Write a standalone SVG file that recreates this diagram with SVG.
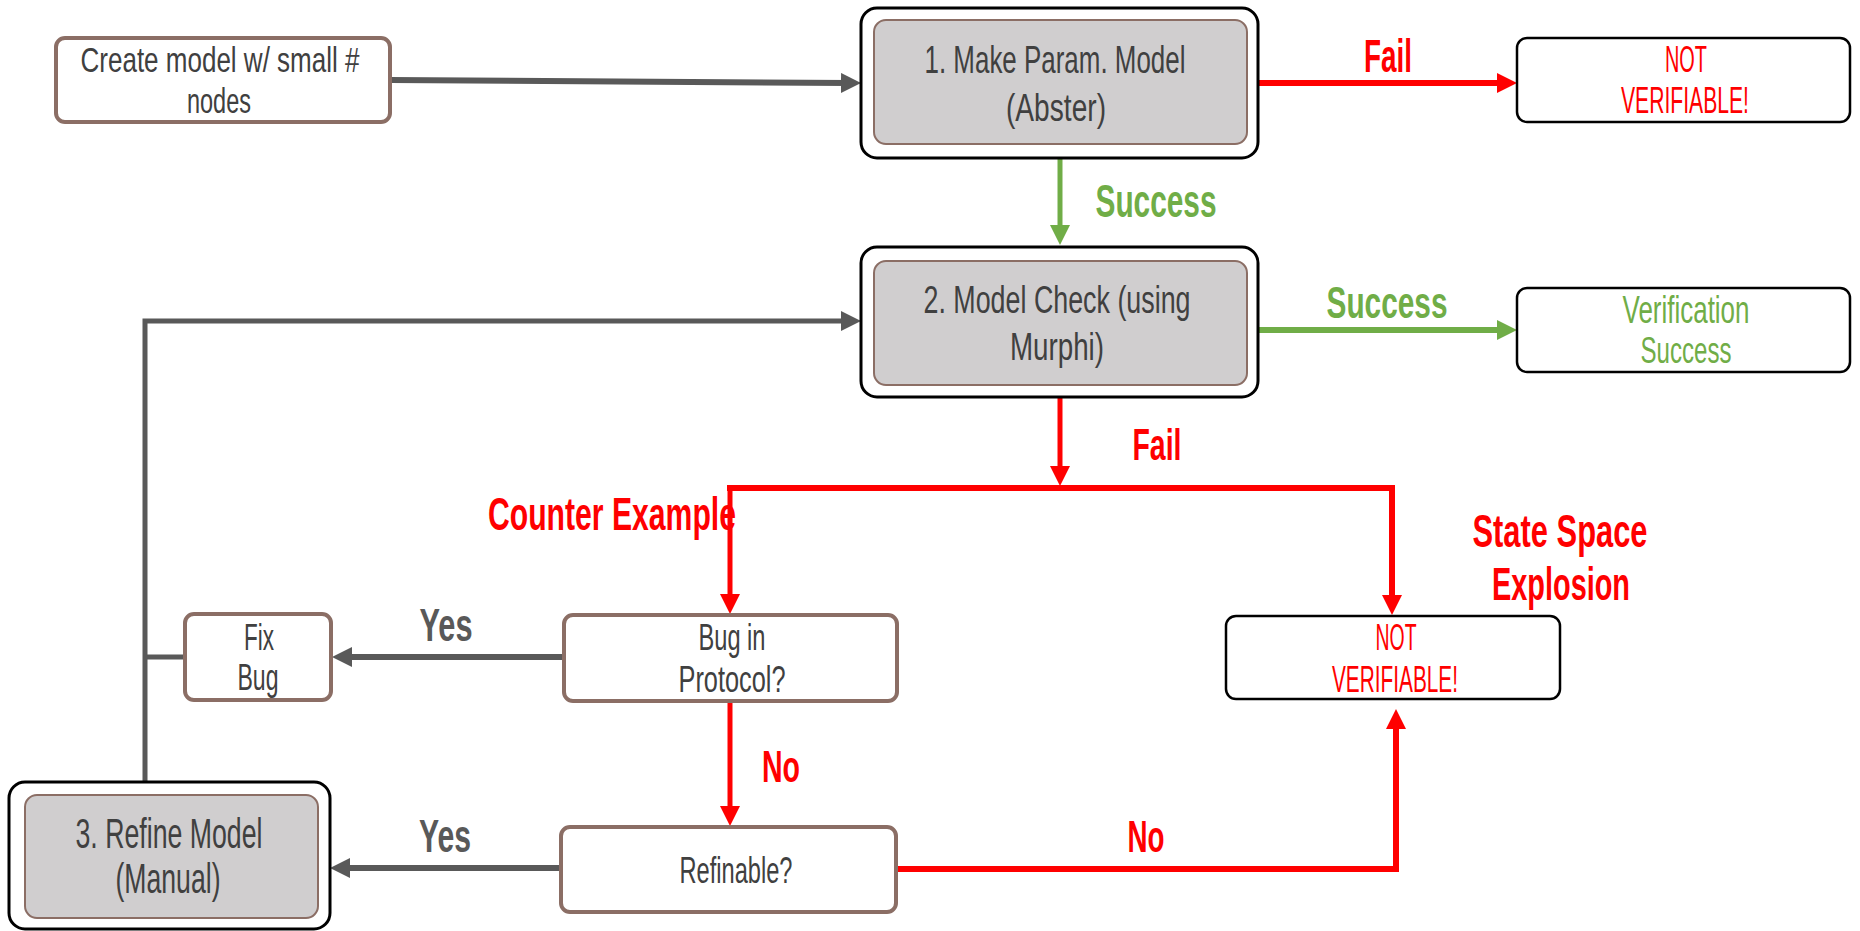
<svg xmlns="http://www.w3.org/2000/svg" width="1860" height="931" viewBox="0 0 1860 931">
  <style>
    text { font-family: "Liberation Sans Narrow", "Liberation Sans", Arial, sans-serif; text-anchor: middle; }
    .box { fill: #ffffff; stroke: #8B6E65; stroke-width: 4; }
    .outer { fill: #ffffff; stroke: #000000; stroke-width: 3; }
    .inner { fill: #D0CECF; stroke: #8B6E65; stroke-width: 2; }
    .plain { fill: #ffffff; stroke: #000000; stroke-width: 2.5; }
    .t { fill: #404040; }
    .tred { fill: #FF0000; }
    .tgreen { fill: #70AD47; }
    .lbl { font-weight: bold; }
    .lred { fill: #FF0000; }
    .lgreen { fill: #70AD47; }
    .lgray { fill: #595959; }
    .cg { fill: none; stroke: #595959; stroke-width: 6; }
    .cr { fill: none; stroke: #FF0000; stroke-width: 6; }
    .cgr { fill: none; stroke: #70AD47; stroke-width: 5; }
  </style>
  <defs>
    <marker id="ah-gray" markerUnits="userSpaceOnUse" markerWidth="20" markerHeight="20" refX="8" refY="10" orient="auto">
      <path d="M0,0 L20,10 L0,20 Z" fill="#595959"/>
    </marker>
    <marker id="ah-red" markerUnits="userSpaceOnUse" markerWidth="20" markerHeight="20" refX="8" refY="10" orient="auto">
      <path d="M0,0 L20,10 L0,20 Z" fill="#FF0000"/>
    </marker>
    <marker id="ah-green" markerUnits="userSpaceOnUse" markerWidth="20" markerHeight="20" refX="8" refY="10" orient="auto">
      <path d="M0,0 L20,10 L0,20 Z" fill="#70AD47"/>
    </marker>
  </defs>

  <g id="connectors">
    <!-- start -> step 1 -->
    <path class="cg" d="M390,80 L849,83" marker-end="url(#ah-gray)"/>
    <!-- step 1 fail -->
    <path class="cr" d="M1258,83 H1505" marker-end="url(#ah-red)"/>
    <!-- step 1 success -->
    <path class="cgr" d="M1060,158 V233" marker-end="url(#ah-green)"/>
    <!-- step 2 success -->
    <path class="cgr" style="stroke-width:6" d="M1258,330 H1505" marker-end="url(#ah-green)"/>
    <!-- step 2 fail -->
    <path class="cr" style="stroke-width:5" d="M1060,397 V474" marker-end="url(#ah-red)"/>
    <!-- fail branch -->
    <path class="cr" d="M727,488 H1392 V603" marker-end="url(#ah-red)"/>
    <path class="cr" style="stroke-width:5" d="M730,488 V602" marker-end="url(#ah-red)"/>
    <!-- bug in protocol: yes -->
    <path class="cg" d="M563,657 H344" marker-end="url(#ah-gray)"/>
    <!-- fix bug loop back to step 2 -->
    <path class="cg" style="stroke-width:5" d="M185,657 H145"/>
    <path class="cg" style="stroke-width:5" d="M145,782 V321 H849" marker-end="url(#ah-gray)"/>
    <!-- bug in protocol: no -->
    <path class="cr" style="stroke-width:5" d="M730,701 V814" marker-end="url(#ah-red)"/>
    <!-- refinable: yes -->
    <path class="cg" d="M560,868 H342" marker-end="url(#ah-gray)"/>
    <!-- refinable: no -->
    <path class="cr" d="M896,869 H1396 V721" marker-end="url(#ah-red)"/>
  </g>

  <g id="edge-labels">
    <text class="lbl lred" x="1388" y="72" font-size="47" textLength="48" lengthAdjust="spacingAndGlyphs">Fail</text>
    <text class="lbl lgreen" x="1156" y="217" font-size="47" textLength="121" lengthAdjust="spacingAndGlyphs">Success</text>
    <text class="lbl lgreen" x="1387" y="318" font-size="45" textLength="121" lengthAdjust="spacingAndGlyphs">Success</text>
    <text class="lbl lred" x="1157" y="460" font-size="45" textLength="49" lengthAdjust="spacingAndGlyphs">Fail</text>
    <text class="lbl lred" x="612" y="530" font-size="46" textLength="248" lengthAdjust="spacingAndGlyphs">Counter Example</text>
    <text class="lbl lred" x="1560" y="547" font-size="46" textLength="175" lengthAdjust="spacingAndGlyphs">State Space</text>
    <text class="lbl lred" x="1561" y="600" font-size="46" textLength="138" lengthAdjust="spacingAndGlyphs">Explosion</text>
    <text class="lbl lgray" x="446" y="641" font-size="47" textLength="53" lengthAdjust="spacingAndGlyphs">Yes</text>
    <text class="lbl lred" x="781" y="782" font-size="45" textLength="38" lengthAdjust="spacingAndGlyphs">No</text>
    <text class="lbl lgray" x="445" y="852" font-size="47" textLength="52" lengthAdjust="spacingAndGlyphs">Yes</text>
    <text class="lbl lred" x="1146" y="852" font-size="45" textLength="37" lengthAdjust="spacingAndGlyphs">No</text>
  </g>

  <g id="create-model">
    <rect class="box" x="56" y="38" width="334" height="84" rx="9"/>
    <text class="t" x="220" y="72" font-size="35" textLength="279" lengthAdjust="spacingAndGlyphs">Create model w/ small #</text>
    <text class="t" x="219" y="113" font-size="35" textLength="64" lengthAdjust="spacingAndGlyphs">nodes</text>
  </g>

  <g id="make-param-model">
    <rect class="outer" x="861" y="8" width="397" height="150" rx="16"/>
    <rect class="inner" x="874" y="20" width="373" height="124" rx="12"/>
    <text class="t" x="1055" y="73" font-size="39" textLength="261" lengthAdjust="spacingAndGlyphs">1. Make Param. Model</text>
    <text class="t" x="1056" y="121" font-size="39" textLength="100" lengthAdjust="spacingAndGlyphs">(Abster)</text>
  </g>

  <g id="not-verifiable-1">
    <rect class="plain" x="1517" y="38" width="333" height="84" rx="10"/>
    <text class="tred" x="1686" y="72" font-size="37" textLength="42" lengthAdjust="spacingAndGlyphs">NOT</text>
    <text class="tred" x="1685" y="113" font-size="37" textLength="128" lengthAdjust="spacingAndGlyphs">VERIFIABLE!</text>
  </g>

  <g id="model-check">
    <rect class="outer" x="861" y="247" width="397" height="150" rx="16"/>
    <rect class="inner" x="874" y="261" width="373" height="124" rx="12"/>
    <text class="t" x="1057" y="313" font-size="39" textLength="267" lengthAdjust="spacingAndGlyphs">2. Model Check (using</text>
    <text class="t" x="1057" y="360" font-size="39" textLength="94" lengthAdjust="spacingAndGlyphs">Murphi)</text>
  </g>

  <g id="verification-success">
    <rect class="plain" x="1517" y="288" width="333" height="84" rx="10"/>
    <text class="tgreen" x="1686" y="323" font-size="38" textLength="127" lengthAdjust="spacingAndGlyphs">Verification</text>
    <text class="tgreen" x="1686" y="363" font-size="37" textLength="91" lengthAdjust="spacingAndGlyphs">Success</text>
  </g>

  <g id="not-verifiable-2">
    <rect class="plain" x="1226" y="616" width="334" height="83" rx="10"/>
    <text class="tred" x="1396" y="650" font-size="37" textLength="41" lengthAdjust="spacingAndGlyphs">NOT</text>
    <text class="tred" x="1395" y="692" font-size="37" textLength="126" lengthAdjust="spacingAndGlyphs">VERIFIABLE!</text>
  </g>

  <g id="bug-in-protocol">
    <rect class="box" x="564" y="615" width="333" height="86" rx="9"/>
    <text class="t" x="732" y="650" font-size="37" textLength="67" lengthAdjust="spacingAndGlyphs">Bug in</text>
    <text class="t" x="732" y="692" font-size="37" textLength="107" lengthAdjust="spacingAndGlyphs">Protocol?</text>
  </g>

  <g id="fix-bug">
    <rect class="box" x="185" y="614" width="146" height="86" rx="9"/>
    <text class="t" x="259" y="650" font-size="37" textLength="30" lengthAdjust="spacingAndGlyphs">Fix</text>
    <text class="t" x="258" y="690" font-size="37" textLength="41" lengthAdjust="spacingAndGlyphs">Bug</text>
  </g>

  <g id="refinable">
    <rect class="box" x="561" y="827" width="335" height="85" rx="9"/>
    <text class="t" x="736" y="883" font-size="37" textLength="113" lengthAdjust="spacingAndGlyphs">Refinable?</text>
  </g>

  <g id="refine-model">
    <rect class="outer" x="9" y="782" width="321" height="147" rx="16"/>
    <rect class="inner" x="25" y="795" width="293" height="123" rx="12"/>
    <text class="t" x="169" y="848" font-size="42" textLength="187" lengthAdjust="spacingAndGlyphs">3. Refine Model</text>
    <text class="t" x="168" y="893" font-size="42" textLength="105" lengthAdjust="spacingAndGlyphs">(Manual)</text>
  </g>
</svg>
